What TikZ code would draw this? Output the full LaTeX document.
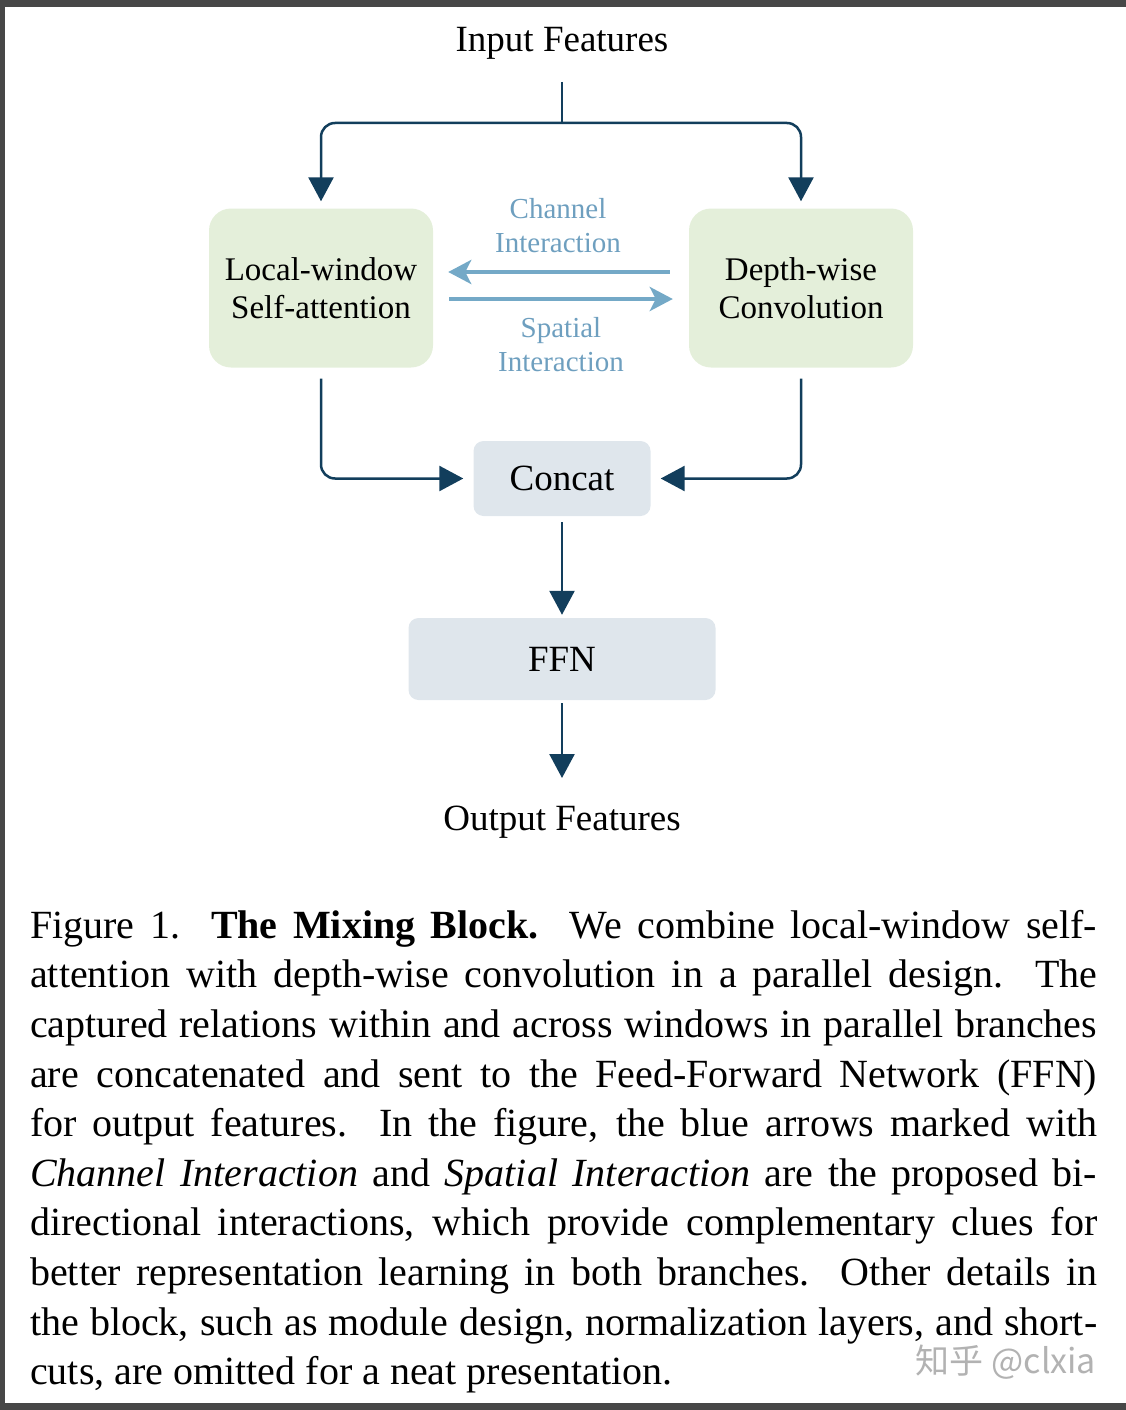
\documentclass[tikz,border=0pt]{standalone}
\usepackage{fontspec}
\setmainfont{Liberation Serif}
\newfontfamily\cjk{Noto Sans CJK SC}
\usepackage{xcolor}
\usepackage{tikz}
\usetikzlibrary{calc, positioning, arrows.meta}
\definecolor{navy}{HTML}{123E5C}
\definecolor{interblue}{HTML}{74A9C7}
\definecolor{intertext}{HTML}{6E9FBF}
\definecolor{boxgreen}{HTML}{E4EFDA}
\definecolor{boxgrey}{HTML}{DFE6EC}
\definecolor{framegrey}{HTML}{474747}

\begin{document}
\begin{tikzpicture}[x=1pt, y=-1pt, every node/.style={inner sep=0pt},
    greenbox/.style={fill=boxgreen, rounded corners=22pt, minimum width=224pt, minimum height=159pt,
        align=center, font=\fontsize{33}{38}\selectfont},
    greybox/.style={fill=boxgrey, rounded corners=10pt, font=\fontsize{37}{40}\selectfont},
    flow/.style={draw=navy, line width=2.5pt, rounded corners=14pt, -{Triangle[length=24pt,width=25pt]}},
    inter/.style={draw=interblue, line width=4.5pt, -{Stealth[length=23pt,width=24pt,inset=6pt]}},
    lbl/.style={text=intertext, align=center, font=\fontsize{29}{34}\selectfont}]
    \useasboundingbox (0,0) rectangle (1126,1410);
    % Screenshot frame
    \foreach \xa/\ya/\xb/\yb in {0/0/1126/7, 0/0/5/1410, 0/1403/1126/1410} {
        \fill[framegrey] (\xa,\ya) rectangle (\xb,\yb);
    }
    % Blocks
    \node[anchor=north, font=\fontsize{37}{40}\selectfont] (in) at (562,27) {Input Features};
    \node[greenbox] (lwsa) at (321,288) {Local-window\\Self-attention};
    \node[greenbox] (dwc) at (801,288) {Depth-wise\\Convolution};
    \node[greybox, minimum width=177pt, minimum height=75pt] (concat) at (562,478.5) {Concat};
    \node[greybox, minimum width=307pt, minimum height=82pt] (ffn) at (562,659) {FFN};
    \node[anchor=north, font=\fontsize{37}{40}\selectfont] (out) at (562,806) {Output Features};
    % Split of the input
    \coordinate (fork) at (562,82);
    \coordinate (split) at (562,123);
    \draw[navy, line width=2.5pt] (fork) -- (split);
    \foreach \b in {lwsa,dwc} {
        \draw[flow] (split) -| ([yshift=7pt]\b.north);
    }
    % Interactions between the branches
    \draw[inter] ([xshift=-19pt,yshift=16pt]dwc.west) -- ([xshift=15pt,yshift=16pt]lwsa.east);
    \draw[inter] ([xshift=16pt,yshift=-11pt]lwsa.east) -- ([xshift=-16pt,yshift=-11pt]dwc.west);
    \node[lbl] (chan) at (558,226) {Channel\\Interaction};
    \node[lbl] (spat) at (561,345) {Spatial\\Interaction};
    % Merge and output
    \draw[flow] ([yshift=-11pt]lwsa.south) |- ([xshift=-10pt]concat.west);
    \draw[flow] ([yshift=-11pt]dwc.south) |- ([xshift=10pt]concat.east);
    \draw[flow] ([yshift=-6pt]concat.south) -- ([yshift=3pt]ffn.north);
    \draw[flow] ([yshift=-3pt]ffn.south) -- ([yshift=28pt]out.north);
    % Caption
    \node[anchor=north west, text width=1067pt, align=justify,
        font=\fontsize{40}{49.6}\selectfont] (cap) at (30,910) {\hyphenpenalty=10000\tolerance=10000%
        Figure 1.\ \ \textbf{The Mixing Block.}\ \ We combine local-window self-\linebreak{}attention
        with depth-wise convolution in a parallel design.\ \ The\linebreak{} captured relations within and
        across windows in parallel branches\linebreak{} are concatenated and sent to the Feed-Forward
        Network (FFN)\linebreak{} for output features.\ \ In the figure, the blue arrows marked
        with\linebreak{} \textit{Channel Interaction} and \textit{Spatial Interaction} are the proposed
        bi-\linebreak{}directional interactions, which provide complementary clues for\linebreak{} better
        representation learning in both branches.\ \ Other details in\linebreak{} the block, such as
        module design, normalization layers, and short-\linebreak{}cuts, are omitted for a neat
        presentation.};
    \node[text=gray!60, font=\cjk\fontsize{34}{34}\selectfont] (mark) at (1006,1362) {知乎 @clxia};
\end{tikzpicture}
\end{document}
